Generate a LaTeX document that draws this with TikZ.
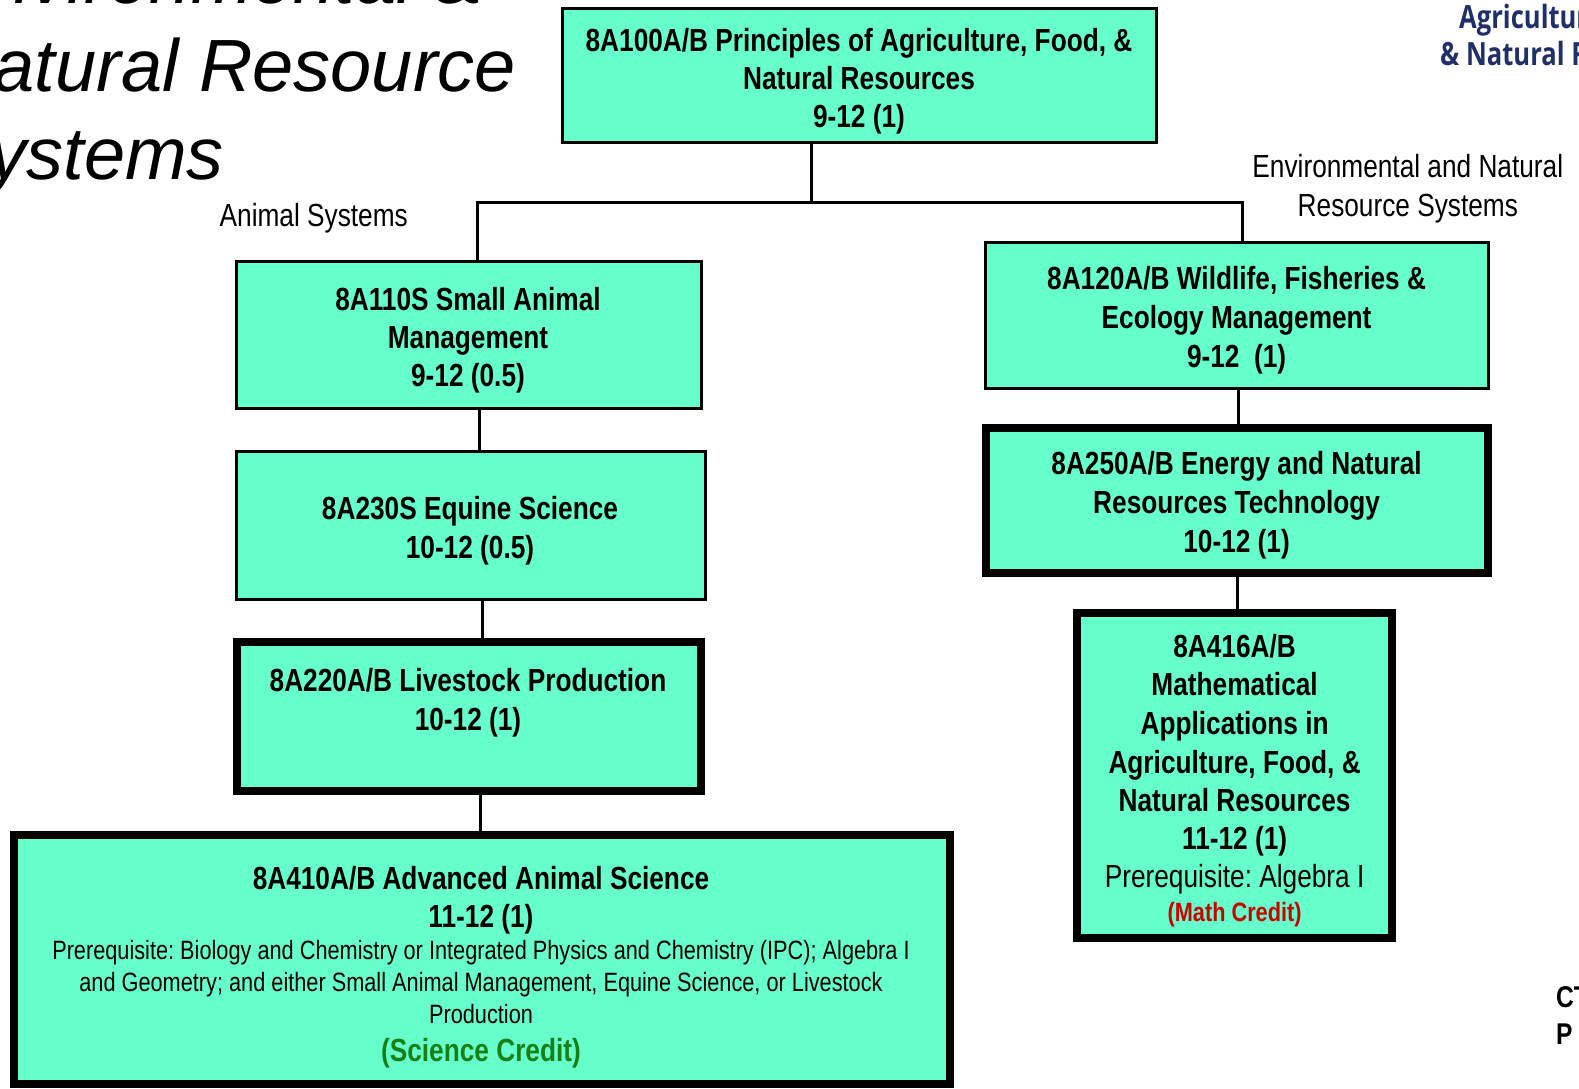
\documentclass[tikz,border=0pt]{standalone}
\usepackage{fontspec}
\setmainfont{Liberation Sans}
\newfontfamily\narrowfont[FakeStretch=0.82]{Liberation Sans}
\newfontfamily\logofont[FakeStretch=0.8]{Open Sans}
\usetikzlibrary{calc}
\definecolor{mint}{RGB}{102,255,204}
\definecolor{sciGreen}{RGB}{22,128,22}
\definecolor{mathRed}{RGB}{204,0,0}
\definecolor{navy}{RGB}{31,48,104}
\frenchspacing
\begin{document}
\begin{tikzpicture}[x=1pt,y=-1pt,
  box/.style={draw=black, fill=mint, line width=3pt, rectangle, inner sep=0pt},
  thickbox/.style={box, line width=8pt},
  conn/.style={draw=black, line width=3pt},
  bl/.style={anchor=base, inner sep=0pt, font=\narrowfont\bfseries\fontsize{32}{38}\selectfont},
  rl/.style={anchor=base, inner sep=0pt, font=\narrowfont\fontsize{26.5}{32}\selectfont},
  rlbig/.style={anchor=base, inner sep=0pt, font=\narrowfont\fontsize{32}{38}\selectfont},
  bls/.style={anchor=base, inner sep=0pt, font=\narrowfont\bfseries\fontsize{26.5}{32}\selectfont},
  titlefont/.style={anchor=base west, inner sep=0pt, font=\itshape\fontsize{74}{88}\selectfont},
  logo/.style={anchor=base west, inner sep=0pt, text=navy, font=\logofont\bfseries\fontsize{32}{38}\selectfont},
  corner/.style={anchor=base west, inner sep=0pt, font=\narrowfont\bfseries\fontsize{30}{36}\selectfont}
]
\useasboundingbox (0,0) rectangle (1579,1088);
\clip (0,0) rectangle (1579,1088);

% title (cut off)
\node[titlefont] (ti1) at (-60,3) {Environmental \&};
\node[titlefont] (ti2) at (-60,91) {Natural Resource};
\node[titlefont] (ti3) at (-60,179) {Systems};

% logo (cut off)
\node[logo] (lg1) at (1459,28) {Agriculture, Food};
\node[logo] (lg2) at (1440,65) {\& Natural Resources};

% corner text (cut off)
\node[corner] (cr1) at (1556,1007) {CT};
\node[corner] (cr2) at (1556,1044) {P};

% boxes
\node[box, minimum width=594, minimum height=134] (top) at (859.5,75.5) {};
\node[box, minimum width=465, minimum height=147] (small) at (469,335) {};
\node[box, minimum width=469, minimum height=148] (equine) at (471,525.5) {};
\node[thickbox, minimum width=464, minimum height=149] (live) at (469,716.5) {};
\node[thickbox, minimum width=936, minimum height=249] (adv) at (482,959.5) {};
\node[box, minimum width=503, minimum height=146] (wild) at (1237,315.5) {};
\node[thickbox, minimum width=502, minimum height=145] (energy) at (1237,500.5) {};
\node[thickbox, minimum width=315, minimum height=325] (math) at (1234.5,775.5) {};

% connectors
\coordinate (trunk) at (811.6,202.4);
\coordinate (jl) at (477,202.4);
\coordinate (jr) at (1242.6,202.4);
\draw[conn] (trunk |- top.south) -- (trunk);
\draw[conn] (jl |- small.north) -- (jl) -- (jr) -- (jr |- wild.north);
\draw[conn] ([xshift=10pt]small.south) -- ([xshift=10pt]small.south |- equine.north);
\draw[conn] ([xshift=11pt]equine.south) -- ([xshift=11pt]equine.south |- live.north);
\draw[conn] ([xshift=11pt]live.south) -- ([xshift=11pt]live.south |- adv.north);
\draw[conn] ([xshift=1.6pt]wild.south) -- ([xshift=1.6pt]wild.south |- energy.north);
\draw[conn] ([xshift=0.6pt]energy.south) -- ([xshift=0.6pt]energy.south |- math.north);

% section labels
\node[rlbig, anchor=base west] (animal) at (219.5,226) {Animal Systems};
\node[rlbig] (env1) at (1407.8,177.5) {Environmental and Natural};
\node[rlbig] (env2) at (1407.8,216) {Resource Systems};

% top box text
\node[bl] (tp1) at (859,51) {8A100A/B Principles of Agriculture, Food, \&};
\node[bl] (tp2) at (859,89) {Natural Resources};
\node[bl] (tp3) at (859,127) {9-12 (1)};

% small animal
\node[bl] (sm1) at (468,310) {8A110S Small Animal};
\node[bl] (sm2) at (468,348) {Management};
\node[bl] (sm3) at (468,386) {9-12 (0.5)};

% equine
\node[bl] (eq1) at (470,519) {8A230S Equine Science};
\node[bl] (eq2) at (470,558) {10-12 (0.5)};

% livestock
\node[bl] (lv1) at (468,691) {8A220A/B Livestock Production};
\node[bl] (lv2) at (468,730) {10-12 (1)};

% advanced
\node[bl] (ad1) at (481,889) {8A410A/B Advanced Animal Science};
\node[bl] (ad2) at (481,927) {11-12 (1)};
\node[rl] (ad3) at (481,959) {Prerequisite: Biology and Chemistry or Integrated Physics and Chemistry (IPC); Algebra I};
\node[rl] (ad4) at (481,991) {and Geometry; and either Small Animal Management, Equine Science, or Livestock};
\node[rl] (ad5) at (481,1023.5) {Production};
\node[bl, text=sciGreen] (ad6) at (481,1061) {(Science Credit)};

% wildlife
\node[bl] (wl1) at (1236.6,289.5) {8A120A/B Wildlife, Fisheries \&};
\node[bl] (wl2) at (1236.6,328.5) {Ecology Management};
\node[bl] (wl3) at (1236.6,367) {9-12\ \ (1)};

% energy
\node[bl] (en1) at (1236.6,474.5) {8A250A/B Energy and Natural};
\node[bl] (en2) at (1236.6,513) {Resources Technology};
\node[bl] (en3) at (1236.6,552) {10-12 (1)};

% math
\node[bl] (mt1) at (1234.6,657) {8A416A/B};
\node[bl] (mt2) at (1234.6,695) {Mathematical};
\node[bl] (mt3) at (1234.6,734.5) {Applications in};
\node[bl] (mt4) at (1234.6,773) {Agriculture, Food, \&};
\node[bl] (mt5) at (1234.6,811) {Natural Resources};
\node[bl] (mt6) at (1234.6,849) {11-12 (1)};
\node[rlbig] (mt7) at (1234.6,887.5) {Prerequisite: Algebra I};
\node[bls, text=mathRed] (mt8) at (1234.6,921.8) {(Math Credit)};
\end{tikzpicture}
\end{document}
